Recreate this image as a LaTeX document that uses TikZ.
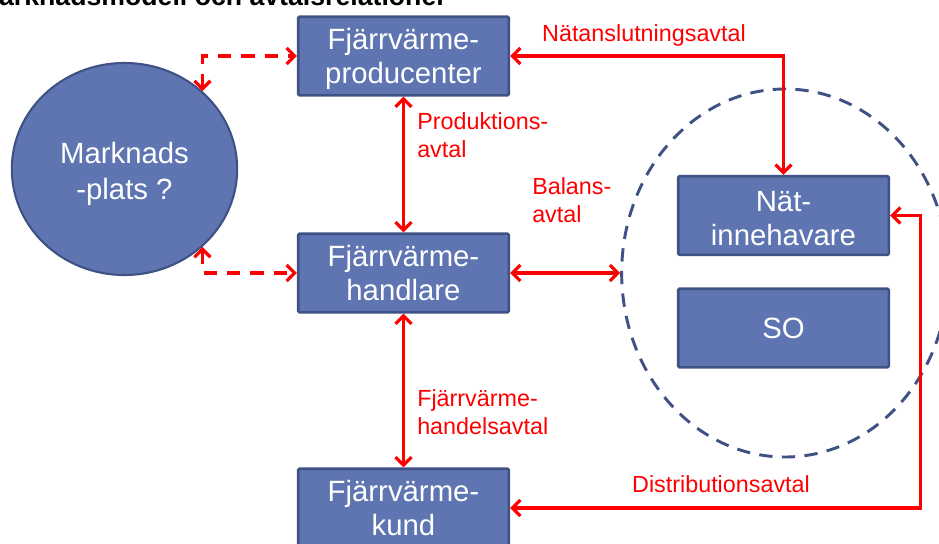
\documentclass[tikz,border=0pt]{standalone}
\usepackage{fontspec}
\setmainfont{Liberation Sans}
\usetikzlibrary{arrows.meta,shapes.geometric}
\definecolor{boxblue}{RGB}{94,117,178}
\definecolor{boxedge}{RGB}{64,82,133}

\begin{document}
\begin{tikzpicture}[x=0.75pt, y=-0.75pt,
    box/.style={draw=boxedge, line width=2pt, fill=boxblue, rounded corners=1pt,
      text=white, minimum width=158pt, minimum height=59pt, inner sep=0pt,
      align=center, font=\fontsize{22}{25.5}\selectfont},
    deal/.style={red, line width=2.4pt, {Straight Barb[length=6pt,width=12pt]}-{Straight Barb[length=6pt,width=12pt]}},
    lbl/.style={red, inner sep=0pt, align=left, font=\fontsize{17.5}{21}\selectfont}]
  \useasboundingbox (0,0) rectangle (939,543);
  \node[anchor=base east, inner sep=0pt, font=\bfseries\fontsize{20}{24}\selectfont] (title) at (447,5) {Marknadsmodell och avtalsrelationer};

  % the net side, dashed ring behind the two boxes
  \node[ellipse, draw=boxedge, line width=2.2pt, dash pattern=on 10pt off 7pt,
    minimum width=245pt, minimum height=276pt, inner sep=0pt] (zone) at (785,273) {};
  \node[box] (natagare) at (783.5,215.5) {\rule{0pt}{20pt}Nät-\\innehavare};
  \node[box] (so) at (783.5,328) {SO};

  \node[box] (producent) at (403.5,56) {\rule{0pt}{20pt}Fjärrvärme-\\producenter};
  \node[box] (handlare) at (403.5,273) {Fjärrvärme-\\handlare};
  \node[box] (kund) at (403.5,508) {Fjärrvärme-\\kund};
  \node[ellipse, draw=boxedge, line width=1.6pt, fill=boxblue, text=white,
    minimum width=169pt, minimum height=159pt, inner sep=0pt, align=center,
    font=\fontsize{22}{27}\selectfont] (marknad) at (124.5,169) {\rule{0pt}{24pt}Marknads\\-plats ?};

  % avtal
  \draw[deal] (producent.south) -- (handlare.north);
  \draw[deal] (handlare.south) -- (kund.north);
  \draw[deal] (handlare.east) -- (zone.west);
  \draw[deal] (producent.east) -| (natagare.north);
  \draw[deal] (natagare.east) -- ++(30,0) |- (kund.east);
  \draw[deal, dash pattern=on 10pt off 7.5pt] (marknad.45) |- (producent.west);
  \draw[deal, dash pattern=on 10pt off 7.5pt] (marknad.-45) |- (handlare.west);

  \node[lbl, anchor=base] (lnat) at (644,41) {Nätanslutningsavtal};
  \node[lbl, anchor=base west] (lprod) at (417,157) {Produktions-\\avtal};
  \node[lbl, anchor=base west] (lbal) at (532,222) {Balans-\\avtal};
  \node[lbl, anchor=base west] (lhandel) at (417,434) {Fjärrvärme-\\handelsavtal};
  \node[lbl, anchor=base] (ldist) at (721,492) {Distributionsavtal};
\end{tikzpicture}
\end{document}
